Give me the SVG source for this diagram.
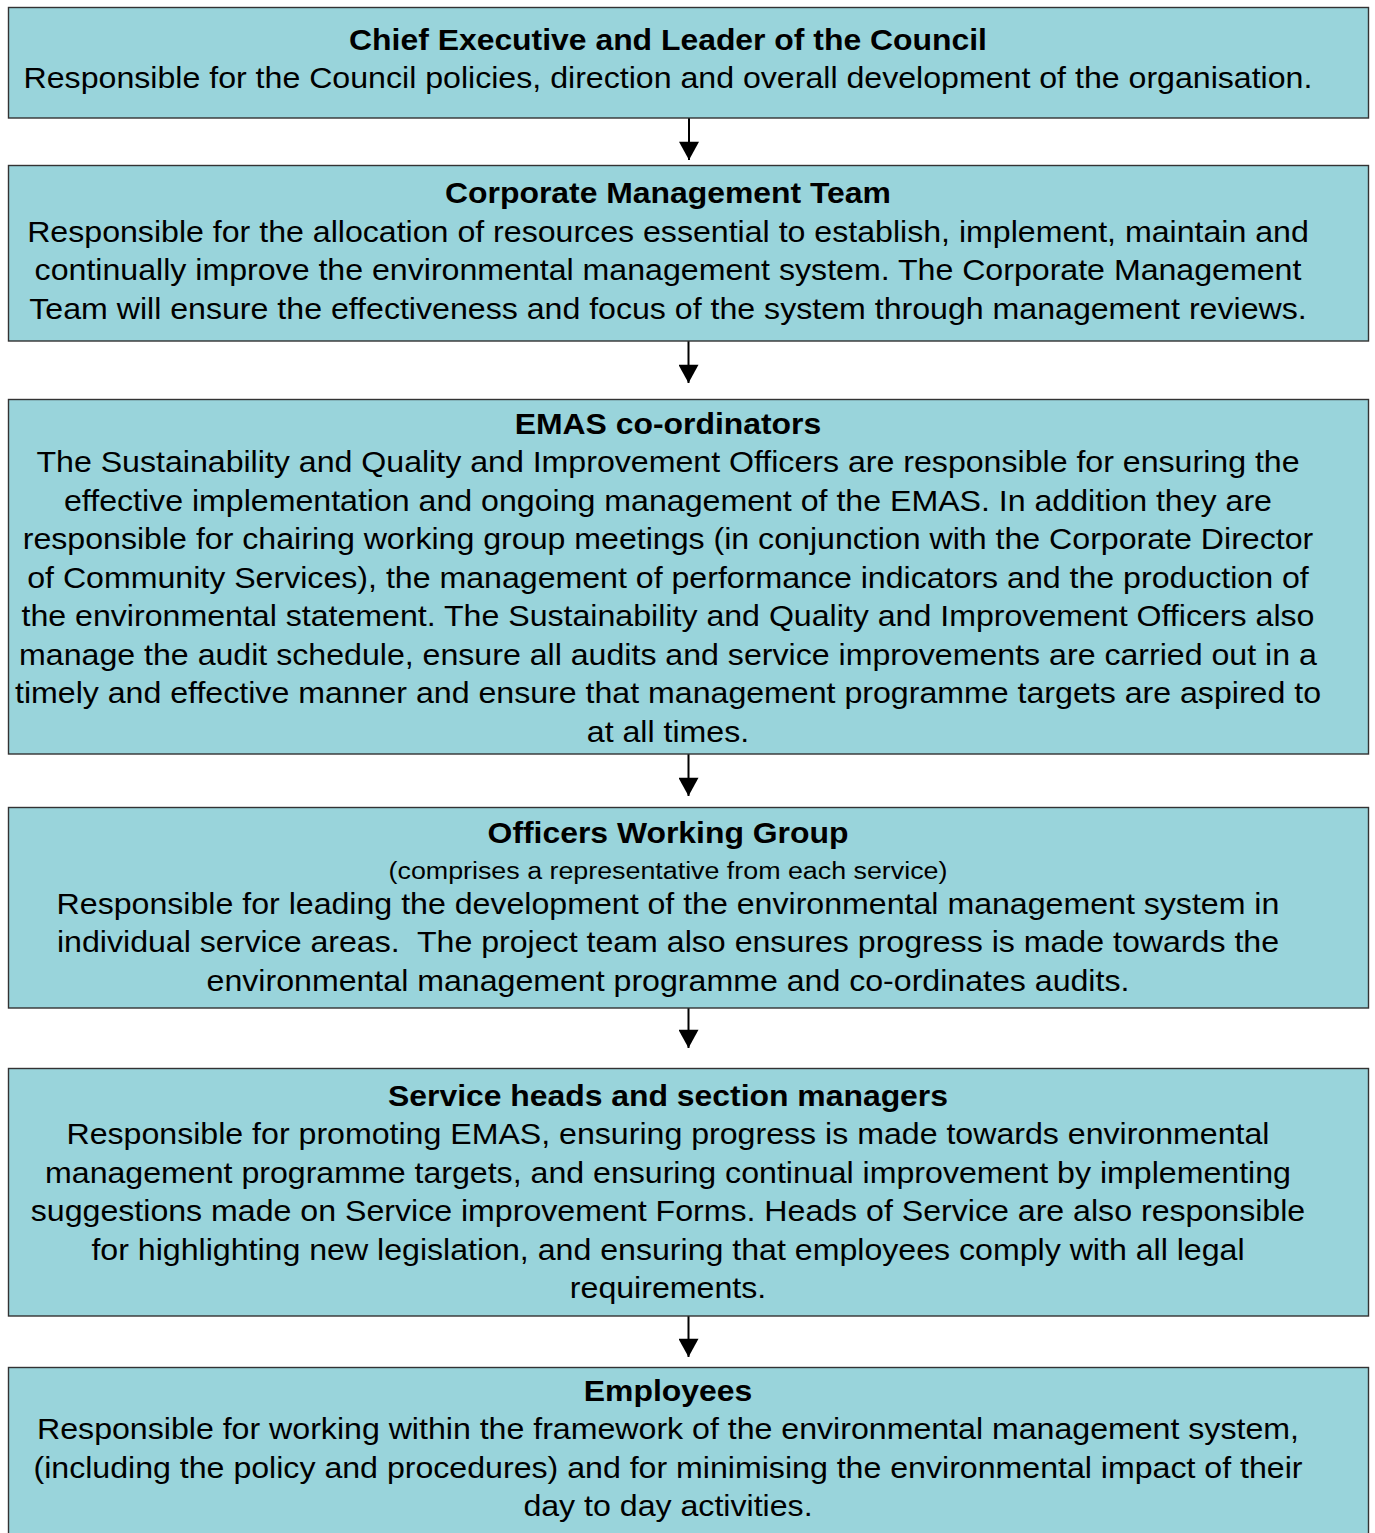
<svg xmlns="http://www.w3.org/2000/svg" width="1375" height="1533" viewBox="0 0 1375 1533">
  <defs>
    <marker id="head" markerUnits="userSpaceOnUse" markerWidth="22" markerHeight="20" refX="20" refY="11" orient="auto" viewBox="0 0 20 22">
      <path d="M0,0 L20,11 L0,22 Z" fill="#000"/>
    </marker>
    <style>
      .box { fill: #99D4DB; stroke: #333; stroke-width: 1.4; }
      .t { font-family: "Liberation Sans", Arial, sans-serif; font-size: 29.2px; fill: #000; text-anchor: middle; }
      .b { font-weight: bold; font-size: 29px; }
      .s { font-size: 24.4px; }
      .link { stroke: #000; stroke-width: 2; fill: none; marker-end: url(#head); }
    </style>
  </defs>
  <rect width="1375" height="1533" fill="#fff"/>

  <g id="connectors">
    <line class="link" x1="689" y1="118" x2="689" y2="160"/>
    <line class="link" x1="688.5" y1="341" x2="688.5" y2="383"/>
    <line class="link" x1="688.5" y1="754" x2="688.5" y2="796"/>
    <line class="link" x1="688.5" y1="1008" x2="688.5" y2="1048"/>
    <line class="link" x1="688.5" y1="1316" x2="688.5" y2="1357"/>
  </g>

  <g id="chief-executive">
    <rect class="box" x="8.5" y="7.5" width="1360" height="110.5"/>
    <g transform="translate(668,0) scale(1.1,1) translate(-668,0)">
      <text class="t b" x="668" y="50">Chief Executive and Leader of the Council</text>
      <text class="t" x="668" y="88">Responsible for the Council policies, direction and overall development of the organisation.</text>
    </g>
  </g>

  <g id="corporate-management-team">
    <rect class="box" x="8.5" y="165.5" width="1360" height="175.5"/>
    <g transform="translate(668,0) scale(1.1,1) translate(-668,0)">
      <text class="t b" x="668" y="203.5">Corporate Management Team</text>
      <text class="t" x="668" y="242">Responsible for the allocation of resources essential to establish, implement, maintain and</text>
      <text class="t" x="668" y="280.5">continually improve the environmental management system. The Corporate Management</text>
      <text class="t" x="668" y="319">Team will ensure the effectiveness and focus of the system through management reviews.</text>
    </g>
  </g>

  <g id="emas-coordinators">
    <rect class="box" x="8.5" y="399.5" width="1360" height="354.5"/>
    <g transform="translate(668,0) scale(1.1,1) translate(-668,0)">
      <text class="t b" x="668" y="433.7">EMAS co-ordinators</text>
      <text class="t" x="668" y="472.2">The Sustainability and Quality and Improvement Officers are responsible for ensuring the</text>
      <text class="t" x="668" y="510.7">effective implementation and ongoing management of the EMAS. In addition they are</text>
      <text class="t" x="668" y="549.2">responsible for chairing working group meetings (in conjunction with the Corporate Director</text>
      <text class="t" x="668" y="587.7">of Community Services), the management of performance indicators and the production of</text>
      <text class="t" x="668" y="626.2">the environmental statement. The Sustainability and Quality and Improvement Officers also</text>
      <text class="t" x="668" y="664.7">manage the audit schedule, ensure all audits and service improvements are carried out in a</text>
      <text class="t" x="668" y="703.2">timely and effective manner and ensure that management programme targets are aspired to</text>
      <text class="t" x="668" y="741.7">at all times.</text>
    </g>
  </g>

  <g id="officers-working-group">
    <rect class="box" x="8.5" y="807.5" width="1360" height="200.5"/>
    <g transform="translate(668,0) scale(1.1,1) translate(-668,0)">
      <text class="t b" x="668" y="843">Officers Working Group</text>
      <text class="t s" x="668" y="879">(comprises a representative from each service)</text>
      <text class="t" x="668" y="914">Responsible for leading the development of the environmental management system in</text>
      <text class="t" x="668" y="952.5">individual service areas.&#160; The project team also ensures progress is made towards the</text>
      <text class="t" x="668" y="991">environmental management programme and co-ordinates audits.</text>
    </g>
  </g>

  <g id="service-heads">
    <rect class="box" x="8.5" y="1068.5" width="1360" height="247.5"/>
    <g transform="translate(668,0) scale(1.1,1) translate(-668,0)">
      <text class="t b" x="668" y="1106">Service heads and section managers</text>
      <text class="t" x="668" y="1144.5">Responsible for promoting EMAS, ensuring progress is made towards environmental</text>
      <text class="t" x="668" y="1183">management programme targets, and ensuring continual improvement by implementing</text>
      <text class="t" x="668" y="1221.5">suggestions made on Service improvement Forms. Heads of Service are also responsible</text>
      <text class="t" x="668" y="1260">for highlighting new legislation, and ensuring that employees comply with all legal</text>
      <text class="t" x="668" y="1298.5">requirements.</text>
    </g>
  </g>

  <g id="employees">
    <rect class="box" x="8.5" y="1367.5" width="1360" height="180"/>
    <g transform="translate(668,0) scale(1.1,1) translate(-668,0)">
      <text class="t b" x="668" y="1401">Employees</text>
      <text class="t" x="668" y="1439.5">Responsible for working within the framework of the environmental management system,</text>
      <text class="t" x="668" y="1478">(including the policy and procedures) and for minimising the environmental impact of their</text>
      <text class="t" x="668" y="1516.5">day to day activities.</text>
    </g>
  </g>
</svg>
